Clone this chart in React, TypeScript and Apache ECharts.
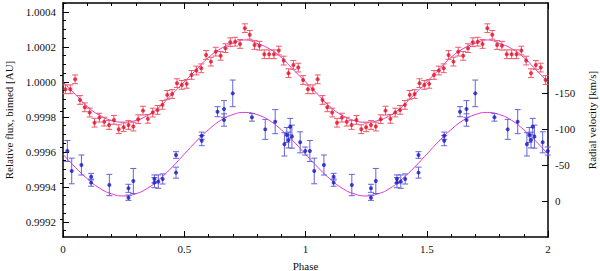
import React, { useEffect, useRef } from "react";
import * as echarts from "echarts";

// ---- data (one folded period, plotted twice: phase and phase + 1) ----
const cycles = [0, 1];

const redPhase = [
  0.01, 0.03, 0.05, 0.07, 0.09, 0.11, 0.13, 0.15, 0.17, 0.19,
  0.21, 0.23, 0.25, 0.27, 0.29, 0.31, 0.33, 0.35, 0.37, 0.39,
  0.41, 0.43, 0.45, 0.47, 0.49, 0.51, 0.53, 0.55, 0.57, 0.59,
  0.61, 0.63, 0.65, 0.67, 0.69, 0.71, 0.73, 0.75, 0.77, 0.79,
  0.81, 0.83, 0.85, 0.87, 0.89, 0.91, 0.93, 0.95, 0.97, 0.99,
];
const redFlux = [
  0.999958, 0.999958, 1.000015, 0.999897, 0.999855, 0.999825, 0.999767, 0.999796, 0.999773, 0.999754,
  0.999783, 0.99973, 0.999741, 0.999754, 0.999745, 0.999787, 0.999836, 0.999789, 0.999825, 0.99984,
  0.999869, 0.999926, 0.999931, 0.999993, 0.999983, 0.999989, 1.00004, 1.000065, 1.000078, 1.000154,
  1.000116, 1.000173, 1.000149, 1.000193, 1.000227, 1.00023, 1.000217, 1.000307, 1.000269, 1.000211,
  1.000207, 1.000158, 1.000158, 1.000158, 1.000179, 1.000122, 1.00005, 1.000097, 1.000082, 1.000011,
];
const redErr = [
  0.000025, 0.000025, 0.000025, 0.000025, 0.000025, 0.000025, 0.000025, 0.000025, 0.000025, 0.000025,
  0.000025, 0.000025, 0.000025, 0.000025, 0.000025, 0.000025, 0.000025, 0.000025, 0.000025, 0.000025,
  0.000025, 0.000025, 0.000025, 0.000025, 0.000025, 0.000025, 0.000025, 0.000025, 0.000025, 0.000025,
  0.000025, 0.000025, 0.000025, 0.000025, 0.000025, 0.000025, 0.000025, 0.000025, 0.000025, 0.000025,
  0.000025, 0.000025, 0.000025, 0.000025, 0.000025, 0.000025, 0.000025, 0.000025, 0.000025, 0.000025,
];

const bluePhase = [
  0.018, 0.036, 0.076, 0.116, 0.116, 0.191, 0.27, 0.27, 0.29, 0.377,
  0.377, 0.393, 0.411, 0.466, 0.466, 0.572, 0.572, 0.637, 0.664, 0.664,
  0.7, 0.779, 0.834, 0.875, 0.913, 0.923, 0.93, 0.937, 0.944, 0.978, 0.999,
];
const blueRV = [
  -69.4, -41.7, -50.0, -33.8, -25.5, -22.2, -4.6, -17.6, -27.8, -30.6,
  -25.5, -26.9, -30.6, -63.9, -39.4, -90.7, -83.8, -124.0, -127.8, -112.5,
  -149.5, -116.2, -99.5, -110.2, -78.7, -91.7, -84.7, -103.2, -89.4, -81.5, -69.4,
];
const blueErr = [
  14.6, 17.8, 13.9, 4.6, 5.0, 14.8, 3.7, 5.6, 17.4, 5.6,
  7.0, 9.3, 7.0, 4.6, 7.6, 5.0, 7.0, 7.0, 11.6, 8.6,
  18.5, 5.3, 13.9, 16.7, 16.2, 10.4, 11.0, 11.6, 16.0, 14.6, 5.6,
];

const fitPhase = [
  0, 0.05, 0.1, 0.15, 0.2, 0.25, 0.3, 0.35, 0.4, 0.45,
  0.5, 0.55, 0.6, 0.65, 0.7, 0.75, 0.8, 0.85, 0.9, 0.95, 1.0,
];
const redFit = [
  1.0, 0.99993, 0.99986, 0.99981, 0.99978, 0.99977, 0.99978, 0.99981, 0.99986, 0.99993,
  1.0, 1.00007, 1.00014, 1.00019, 1.00022, 1.00024, 1.00022, 1.00019, 1.00014, 1.00007, 1.0,
];
const blueFit = [
  -65, -47, -31, -18, -10, -7, -10, -18, -31, -47,
  -65, -83, -99, -112, -120, -123, -120, -112, -99, -83, -65,
];

// ---- tick values ----
const fluxTicks = [0.9992, 0.9994, 0.9996, 0.9998, 1.0, 1.0002, 1.0004];
const fluxMinorTicks = [
  0.99915, 0.99925, 0.9993, 0.99935, 0.99945, 0.9995, 0.99955, 0.99965, 0.9997, 0.99975,
  0.99985, 0.9999, 0.99995, 1.00005, 1.0001, 1.00015, 1.00025, 1.0003, 1.00035, 1.00045,
];
const rvTicks = [-150, -100, -50, 0];
const rvMinorTicks = [-175, -125, -75, -25, 25];

const FONT = "'Liberation Serif', 'Times New Roman', serif";
const TXT = "#111";
const RED_PT = "#e0102a";
const RED_BAR = "#ee5a66";
const BLUE_PT = "#1818c8";
const BLUE_BAR = "#6464d6";
const FIT = "#e030d0";

function errRender(color: string) {
  return (params: any, api: any) => {
    const x = api.value(0);
    const lo = api.coord([x, api.value(1)]);
    const hi = api.coord([x, api.value(2)]);
    const cap = 3;
    const style = { stroke: color, lineWidth: 1 };
    return {
      type: "group",
      children: [
        { type: "line", shape: { x1: lo[0], y1: lo[1], x2: hi[0], y2: hi[1] }, style },
        { type: "line", shape: { x1: lo[0] - cap, y1: lo[1], x2: lo[0] + cap, y2: lo[1] }, style },
        { type: "line", shape: { x1: hi[0] - cap, y1: hi[1], x2: hi[0] + cap, y2: hi[1] }, style },
      ],
    };
  };
}

export default function App() {
  const ref = useRef<HTMLDivElement>(null);

  useEffect(() => {
    if (!ref.current) return;
    const chart = echarts.init(ref.current, undefined, { renderer: "svg" });

    const redPts = cycles.flatMap((c) => redPhase.map((p, i) => [p + c, redFlux[i]]));
    const redBars = cycles.flatMap((c) =>
      redPhase.map((p, i) => [p + c, redFlux[i] - redErr[i], redFlux[i] + redErr[i]])
    );
    const bluePts = cycles.flatMap((c) => bluePhase.map((p, i) => [p + c, blueRV[i]]));
    const blueBars = cycles.flatMap((c) =>
      bluePhase.map((p, i) => [p + c, blueRV[i] - blueErr[i], blueRV[i] + blueErr[i]])
    );
    const redCurve = cycles.flatMap((c) =>
      fitPhase.map((p, i) => [p + c, redFit[i]]).filter((_, i) => c === 0 || i > 0)
    );
    const blueCurve = cycles.flatMap((c) =>
      fitPhase.map((p, i) => [p + c, blueFit[i]]).filter((_, i) => c === 0 || i > 0)
    );

    const lineStyle = { color: "#000", width: 1.5 };
    const tickStyle = { color: "#000", width: 1 };
    const labelStyle = { fontFamily: FONT, fontSize: 11, color: TXT };

    const xCommon = {
      type: "value",
      min: 0,
      max: 2,
      interval: 0.5,
      axisLine: { show: true, onZero: false, lineStyle },
      axisTick: { show: true, inside: true, length: 6, lineStyle: tickStyle },
      minorTick: { show: true, splitNumber: 5, length: 3, lineStyle: tickStyle },
      splitLine: { show: false },
      minorSplitLine: { show: false },
    };

    const fMin = 0.999114;
    const fMax = 1.000451;
    const vMin = -275;
    const vMax = 50;

    chart.setOption({
      animation: false,
      textStyle: { fontFamily: FONT },
      grid: {
        left: 63,
        right: 52,
        top: 3,
        bottom: 34,
        containLabel: false,
        outerBoundsMode: "none",
      },
      xAxis: [
        {
          ...xCommon,
          position: "bottom",
          axisLabel: { ...labelStyle, margin: 6 },
          name: "Phase",
          nameLocation: "middle",
          nameGap: 23,
          nameTextStyle: labelStyle,
        },
        {
          ...xCommon,
          position: "top",
          axisLabel: { show: false },
        },
      ],
      yAxis: [
        {
          type: "value",
          position: "left",
          min: fMin,
          max: fMax,
          axisLine: { show: true, onZero: false, lineStyle },
          axisTick: { show: true, inside: true, length: 6, lineStyle: tickStyle, customValues: fluxTicks },
          axisLabel: {
            ...labelStyle,
            margin: 7,
            customValues: fluxTicks,
            formatter: (v: number) => v.toFixed(4),
          },
          splitLine: { show: false },
          name: "Relative flux, binned [AU]",
          nameLocation: "middle",
          nameGap: 43,
          nameRotate: 90,
          nameTextStyle: labelStyle,
        },
        {
          type: "value",
          position: "right",
          inverse: true,
          min: vMin,
          max: vMax,
          axisLine: { show: true, onZero: false, lineStyle },
          axisTick: { show: true, inside: true, length: 6, lineStyle: tickStyle, customValues: rvTicks },
          axisLabel: { ...labelStyle, margin: 7, customValues: rvTicks },
          splitLine: { show: false },
          name: "Radial velocity [km/s]",
          nameLocation: "middle",
          nameGap: 34,
          nameRotate: 90,
          nameTextStyle: labelStyle,
        },
        {
          type: "value",
          position: "left",
          min: fMin,
          max: fMax,
          axisLine: { show: false },
          axisTick: { show: true, inside: true, length: 3, lineStyle: tickStyle, customValues: fluxMinorTicks },
          axisLabel: { show: false },
          splitLine: { show: false },
        },
        {
          type: "value",
          position: "right",
          inverse: true,
          min: vMin,
          max: vMax,
          axisLine: { show: false },
          axisTick: { show: true, inside: true, length: 3, lineStyle: tickStyle, customValues: rvMinorTicks },
          axisLabel: { show: false },
          splitLine: { show: false },
        },
      ],
      series: [
        {
          type: "line",
          xAxisIndex: 0,
          yAxisIndex: 0,
          data: redCurve,
          smooth: true,
          showSymbol: false,
          lineStyle: { color: FIT, width: 1 },
          z: 1,
        },
        {
          type: "line",
          xAxisIndex: 0,
          yAxisIndex: 1,
          data: blueCurve,
          smooth: true,
          showSymbol: false,
          lineStyle: { color: FIT, width: 1 },
          z: 1,
        },
        {
          type: "custom",
          xAxisIndex: 0,
          yAxisIndex: 0,
          data: redBars,
          encode: { x: 0, y: [1, 2] },
          renderItem: errRender(RED_BAR),
          z: 2,
        },
        {
          type: "custom",
          xAxisIndex: 0,
          yAxisIndex: 1,
          data: blueBars,
          encode: { x: 0, y: [1, 2] },
          renderItem: errRender(BLUE_BAR),
          z: 2,
        },
        {
          type: "scatter",
          xAxisIndex: 0,
          yAxisIndex: 0,
          data: redPts,
          symbol: "circle",
          symbolSize: 4,
          itemStyle: { color: RED_PT },
          z: 3,
        },
        {
          type: "scatter",
          xAxisIndex: 0,
          yAxisIndex: 1,
          data: bluePts,
          symbol: "circle",
          symbolSize: 4,
          itemStyle: { color: BLUE_PT },
          z: 3,
        },
      ],
    });

    return () => chart.dispose();
  }, []);

  return (
    <div
      ref={ref}
      style={{ position: "absolute", left: 0, top: 0, width: 600, height: 271, background: "#fff" }}
    />
  );
}
